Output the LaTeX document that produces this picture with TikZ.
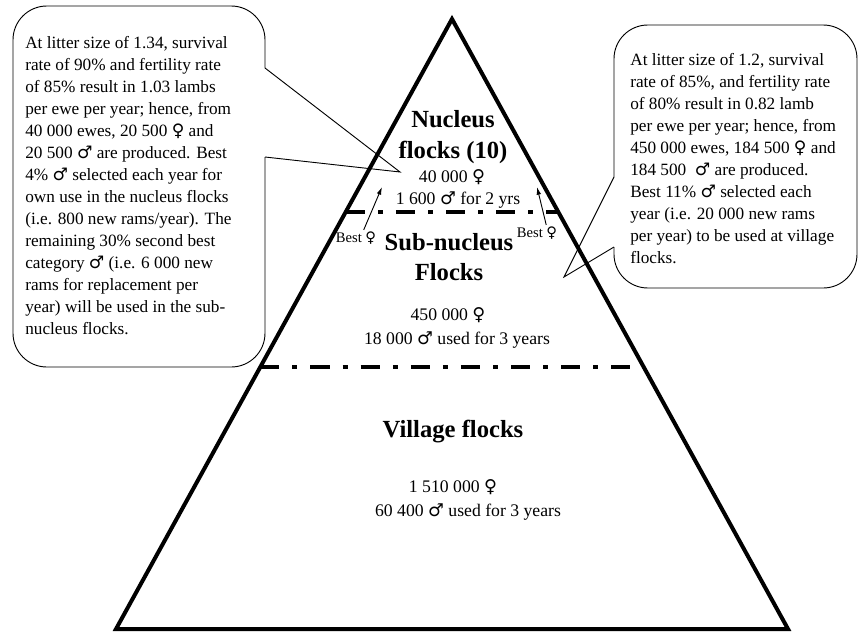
\documentclass[tikz,border=0pt]{standalone}
\usepackage{fontspec}
\setmainfont{Liberation Serif}
\newfontfamily\symbfont{DejaVu Sans}
\newcommand\fem{{\symbfont ♀}}
\newcommand\mal{{\symbfont ♂}}
\usetikzlibrary{positioning,calc,arrows.meta}

\begin{document}
\begin{tikzpicture}[
  x=0.65pt, y=-0.65pt,
  node distance=2pt,
  callout/.style={
    draw,
    line width=0.6pt,
    rounded corners=22pt
  },
  pointer/.style={
    draw,
    line width=0.6pt,
    line join=miter
  },
  note/.style={
    align=left,
    inner sep=0pt,
    anchor=north west,
    font=\fontsize{11.2}{14.3}\selectfont
  },
  level/.style={
    align=center,
    inner sep=0pt,
    font=\fontsize{16}{20}\selectfont\bfseries
  },
  count/.style={
    inner sep=0pt,
    font=\fontsize{11.5}{14}\selectfont
  },
  best/.style={
    inner sep=1pt,
    font=\fontsize{9.5}{12}\selectfont
  },
  pyramid/.style={line width=2.6pt, line join=miter},
  divider/.style={
    line width=2.8pt,
    dash pattern=on 12.4pt off 8.5pt on 3.2pt off 8.5pt
  },
  arrow/.style={-{Latex[length=5pt,width=3pt]}, line width=0.6pt}
]

\useasboundingbox (0,0) rectangle (859,633);

% --------------------
% Pyramid
% --------------------
\coordinate (apex) at (452,19);
\coordinate (bl) at (116,629);
\coordinate (br) at (788,629);

\draw[divider] ($(apex)!0.316!(bl)$) -- ($(apex)!0.316!(br)$);
\draw[divider] ($(apex)!0.5705!(bl)$) -- ($(apex)!0.5705!(br)$);
\draw[pyramid] (apex) -- (br) -- (bl) -- cycle;

% --------------------
% Levels
% --------------------
\node[level] (nucleus) at (453,137) {Nucleus\\flocks (10)};
\node[count] (nfem) at (452,177) {40 000 \fem};
\node[count] (nmale) at (458,200) {1 600 \mal{} for 2 yrs};

\node[level] (subnucleus) at (449,257) {Sub-nucleus\\Flocks};
\node[count] (sfem) at (448,315) {450 000 \fem};
\node[count] (smale) at (457,340) {18 000 \mal{} used for 3 years};

\node[level] (village) at (453,432) {Village flocks};
\node[count] (vfem) at (453,487) {1 510 000 \fem};
\node[count] (vmale) at (468,512) {60 400 \mal{} used for 3 years};

% --------------------
% Best females upwards
% --------------------
\node[best] (bestl) at (356,238) {Best \fem};
\node[best] (bestr) at (537,233) {Best \fem};
\coordinate (bestlend) at (382,187);
\coordinate (bestrend) at (537,187);

\draw[arrow] ([xshift=5pt]bestl.north) -- (bestlend);
\draw[arrow] ([xshift=6pt]bestr.north) -- (bestrend);

% --------------------
% Callouts
% --------------------
\coordinate (ltip) at (400,172);
\draw[callout] (265,68) -- (265,6) -- (13,6) -- (13,367) -- (265,367) -- (265,157);
\draw[pointer] (265,157) -- (ltip) -- (265,68);

\node[note] (leftnote) at (25,36)
{At litter size of 1.34, survival\\
rate of 90\% and fertility rate\\
of 85\% result in 1.03 lambs\\
per ewe per year; hence, from\\
40 000 ewes, 20 500 \fem{} and\\
20 500 \mal{} are produced. Best\\
4\% \mal{} selected each year for\\
own use in the nucleus flocks\\
(i.e. 800 new rams/year). The\\
remaining 30\% second best\\
category \mal{} (i.e. 6 000 new\\
rams for replacement per\\
year) will be used in the sub-\\
nucleus flocks.};

\coordinate (rtip) at (564,277);
\draw[callout] (614,177) -- (614,25) -- (857,25) -- (857,288) -- (614,288) -- (614,247);
\draw[pointer] (614,247) -- (rtip) -- (614,177);

\node[note] (rightnote) at (630,53)
{At litter size of 1.2, survival\\
rate of 85\%, and fertility rate\\
of 80\% result in 0.82 lamb\\
per ewe per year; hence, from\\
450 000 ewes, 184 500 \fem{} and\\
184 500\ \ \mal{} are produced.\\
Best 11\% \mal{} selected each\\
year (i.e. 20 000 new rams\\
per year) to be used at village\\
flocks.};

\end{tikzpicture}
\end{document}
